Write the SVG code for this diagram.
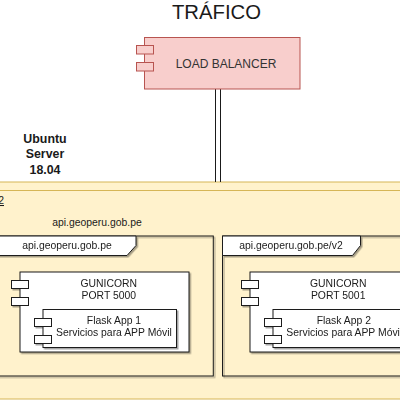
<svg xmlns="http://www.w3.org/2000/svg" width="400" height="400" viewBox="0 0 400 400">
<defs>
<filter id="sh" x="-10%" y="-10%" width="130%" height="130%">
<feDropShadow dx="1.5" dy="1.5" stdDeviation="0.6" flood-color="#000" flood-opacity="0.35"/>
</filter>
</defs>
<style>
text{font-family:"Liberation Sans",Arial,sans-serif;fill:#1a1a1a}
.s{font-size:10.4px;text-anchor:middle}
.comp{fill:#fff;stroke:#1a1a1a;stroke-width:1}
.frame{fill:none;stroke:#1a1a1a;stroke-width:1}
.tab{fill:#fff;stroke:#1a1a1a;stroke-width:1}
.lb{fill:#f8cecc;stroke:#b85450;stroke-width:1}
</style>
<rect width="400" height="400" fill="#fff"/>
<text x="216.5" y="19" font-size="20.3" text-anchor="middle">TRÁFICO</text>
<g id="server">
<rect x="-10" y="182" width="420" height="217" fill="#fff2cc" stroke="#d6b656"/>
<line x1="-10" y1="190.5" x2="410" y2="190.5" stroke="#d6b656"/>
<text x="45" y="143" font-size="12.4" font-weight="bold" text-anchor="middle">Ubuntu</text>
<text x="45" y="158.3" font-size="12.4" font-weight="bold" text-anchor="middle">Server</text>
<text x="45" y="173.6" font-size="12.4" font-weight="bold" text-anchor="middle">18.04</text>
<text x="4" y="204" font-size="10.4" text-anchor="end" text-decoration="underline">2</text>
<text class="s" x="97" y="226">api.geoperu.gob.pe</text>
</g>
<g id="connectors">
<line x1="215.5" y1="89" x2="215.5" y2="182" stroke="#1a1a1a"/>
<line x1="220.5" y1="89" x2="220.5" y2="182" stroke="#1a1a1a"/>
</g>
<g id="loadbalancer">
<rect class="lb" x="144.5" y="37.5" width="155.5" height="51.5"/>
<rect class="lb" x="136.5" y="45.5" width="17" height="8.5"/>
<rect class="lb" x="136.5" y="62.5" width="17" height="8.5"/>
<text x="226" y="67.5" font-size="12" text-anchor="middle" style="fill:#333">LOAD BALANCER</text>
</g>
<g id="frame1" filter="url(#sh)">
<rect class="frame" x="-10" y="236" width="223.3" height="140"/>
<path class="tab" d="M-10 236H136V245.5L127 255.5H-10Z"/>
<text class="s" x="67" y="248.5">api.geoperu.gob.pe</text>
</g>
<g id="frame2" filter="url(#sh)">
<rect class="frame" x="222.5" y="236" width="200" height="140"/>
<path class="tab" d="M222.5 236H360.5V245.5L352.5 255.5H222.5Z"/>
<text class="s" x="291" y="248.5">api.geoperu.gob.pe/v2</text>
</g>
<g id="gunicorn1" filter="url(#sh)">
<rect class="comp" x="20" y="272" width="169" height="80"/>
<rect class="comp" x="11.5" y="280.5" width="17" height="8"/>
<rect class="comp" x="11.5" y="297.5" width="17" height="8"/>
<text class="s" x="108.8" y="286.7">GUNICORN</text>
<text class="s" x="108.8" y="298.5">PORT 5000</text>
</g>
<g id="flask1" filter="url(#sh)">
<rect class="comp" x="43" y="309.5" width="133.5" height="38"/>
<rect class="comp" x="34.5" y="318.5" width="17" height="8"/>
<rect class="comp" x="34.5" y="335.5" width="17" height="8"/>
<text class="s" x="114" y="324">Flask App 1</text>
<text class="s" x="114" y="335.5">Servicios para APP Móvil</text>
</g>
<g id="gunicorn2" filter="url(#sh)">
<rect class="comp" x="250" y="272" width="169" height="80"/>
<rect class="comp" x="241.5" y="280.5" width="17" height="8"/>
<rect class="comp" x="241.5" y="297.5" width="17" height="8"/>
<text class="s" x="338.2" y="286.7">GUNICORN</text>
<text class="s" x="338.2" y="298.5">PORT 5001</text>
</g>
<g id="flask2" filter="url(#sh)">
<rect class="comp" x="273" y="309.5" width="140" height="38"/>
<rect class="comp" x="264.5" y="318.5" width="17" height="8"/>
<rect class="comp" x="264.5" y="335.5" width="17" height="8"/>
<text class="s" x="343.8" y="324">Flask App 2</text>
<text class="s" x="344.3" y="335.5">Servicios para APP Móvil</text>
</g>
</svg>
